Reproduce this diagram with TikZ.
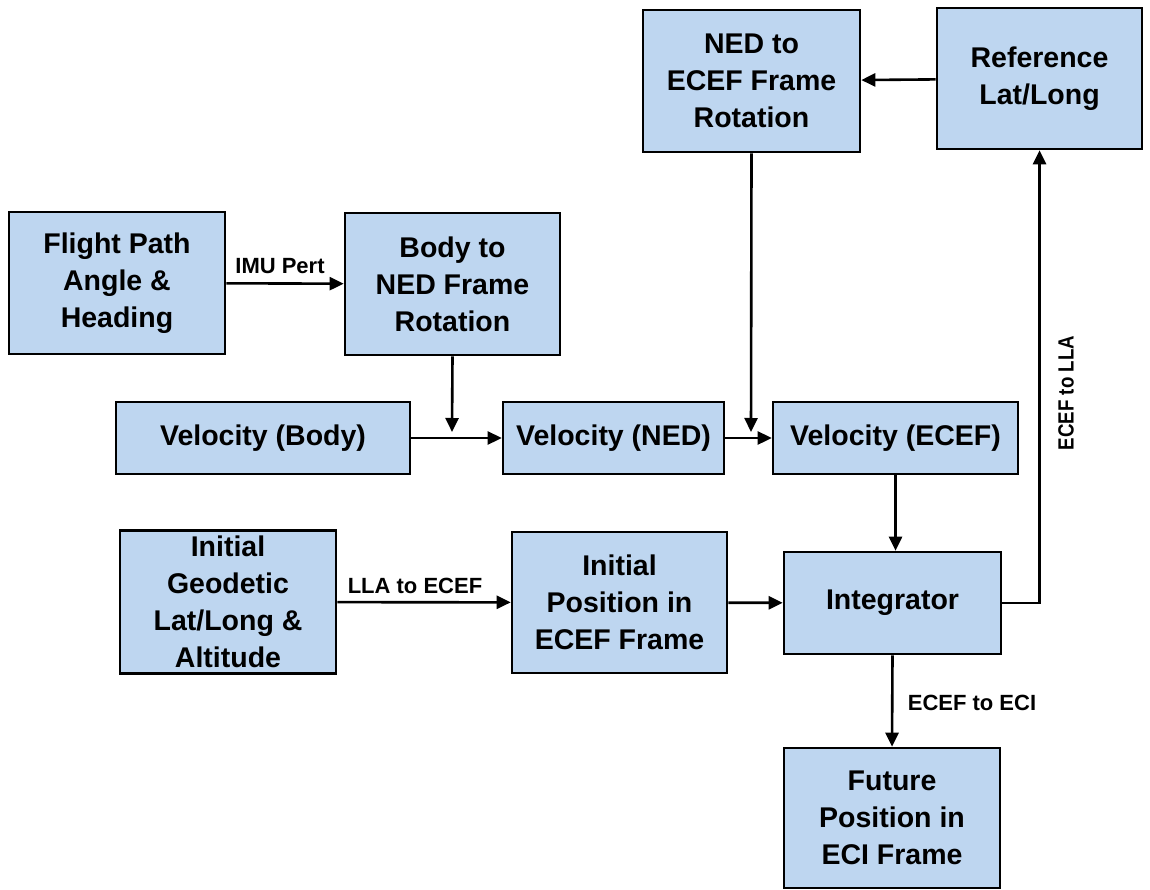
\documentclass[tikz,border=0pt]{standalone}
\usepackage{fontspec}
\setmainfont{Liberation Sans}
\usetikzlibrary{arrows.meta}
\definecolor{boxblue}{RGB}{190,214,240}
\begin{document}
\begin{tikzpicture}[x=1pt,y=-1pt,
  blk/.style={draw=black, line width=2.6pt, fill=boxblue, align=center,
    font=\fontsize{28.5}{37}\selectfont\bfseries, inner sep=0pt},
  arr/.style={line width=2.6pt, -{Triangle[length=14pt,width=13pt]}},
  lbl/.style={font=\fontsize{22}{26}\selectfont\bfseries, inner sep=0pt}]
\useasboundingbox (0,0) rectangle (1150,890);

\node[blk, minimum width=216pt, minimum height=142pt] (flight) at (117,283) {Flight Path\\Angle \&\\Heading};
\node[blk, minimum width=215pt, minimum height=142pt] (body) at (452.5,284) {Body to\\NED Frame\\Rotation};
\node[blk, minimum width=217pt, minimum height=142pt] (nedecef) at (751.5,81) {NED to\\ECEF Frame\\Rotation};
\node[blk, minimum width=205pt, minimum height=141pt] (ref) at (1039.5,78.5) {Reference\\Lat/Long};
\node[blk, minimum width=294pt, minimum height=72pt] (vbody) at (263,438) {Velocity (Body)};
\node[blk, minimum width=221pt, minimum height=72pt] (vned) at (613.5,438) {Velocity (NED)};
\node[blk, minimum width=245pt, minimum height=72pt] (vecef) at (895.5,438) {Velocity (ECEF)};
\node[blk, minimum width=216pt, minimum height=143pt] (initgeo) at (228,602) {Initial\\Geodetic\\Lat/Long \&\\Altitude};
\node[blk, minimum width=215pt, minimum height=141pt] (initpos) at (619.5,602.5) {Initial\\Position in\\ECEF Frame};
\node[blk, minimum width=217pt, minimum height=102pt] (integ) at (892.5,603) {Integrator};
\node[blk, minimum width=216pt, minimum height=140pt] (future) at (892,818) {Future\\Position in\\ECI Frame};

\coordinate (j1) at (452,432);
\coordinate (j2) at (751,432);

\draw[arr] (flight) -- (body);
\node[lbl] (imu) at (280,266) {IMU Pert};
\draw[arr] (body.south) -- (j1);
\draw[arr] (vbody) -- (vned);
\draw[arr] (nedecef.south) -- (j2);
\draw[arr] (vned) -- (vecef);
\draw[arr] (ref) -- (nedecef);
\draw[arr] (vecef.south) -- (vecef.south |- integ.north);
\draw[arr] (initgeo) -- (initpos);
\node[lbl] (lla) at (415,586) {LLA to ECEF};
\draw[arr] (initpos) -- (integ);
\draw[arr] (integ.east) -| (ref.south);
\node[lbl, rotate=90] (ecefllalbl) at (1066,393) {\scalebox{0.85}[1]{ECEF to LLA}};
\draw[arr] (integ.south) -- (future.north);
\node[lbl] (eci) at (972,703) {ECEF to ECI};
\end{tikzpicture}
\end{document}
